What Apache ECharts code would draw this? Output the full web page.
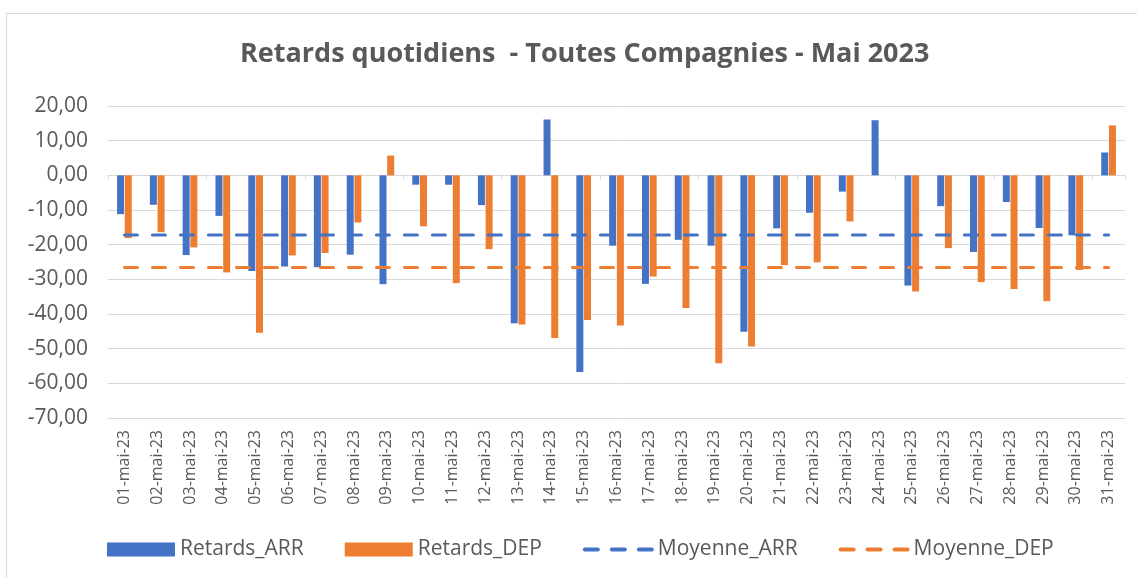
<!DOCTYPE html>
<html>
<head>
<meta charset="utf-8">
<script src="https://cdn.jsdelivr.net/npm/echarts@6/dist/echarts.min.js"></script>
<style>
  html, body { margin: 0; padding: 0; background: #fff; }
  #frame { position: absolute; left: 6px; top: 13px; width: 1200px; height: 700px; border: 1px solid #d9d9d9; }
  #chart { position: absolute; left: 0; top: 0; width: 1137px; height: 578px; }
</style>
</head>
<body>
<div id="frame"></div>
<div id="chart"></div>
<script>
const jours = [
  '01-mai-23', '02-mai-23', '03-mai-23', '04-mai-23', '05-mai-23', '06-mai-23', '07-mai-23', '08-mai-23',
  '09-mai-23', '10-mai-23', '11-mai-23', '12-mai-23', '13-mai-23', '14-mai-23', '15-mai-23', '16-mai-23',
  '17-mai-23', '18-mai-23', '19-mai-23', '20-mai-23', '21-mai-23', '22-mai-23', '23-mai-23', '24-mai-23',
  '25-mai-23', '26-mai-23', '27-mai-23', '28-mai-23', '29-mai-23', '30-mai-23', '31-mai-23'
]
const retardsArr = [
  -11.2, -8.5, -23.0, -11.7, -27.6, -26.3, -26.5, -22.9, -31.4, -2.7, -2.7, -8.6, -42.7, 16.1, -56.7, -20.3,
  -31.3, -18.6, -20.3, -45.1, -15.3, -10.8, -4.7, 15.9, -31.8, -8.9, -22.1, -7.7, -15.2, -17.3, 6.6
]
const retardsDep = [
  -18.1, -16.4, -20.8, -28.0, -45.4, -23.1, -22.4, -13.6, 5.7, -14.7, -31.1, -21.3, -43.0, -46.9, -41.7, -43.3,
  -29.2, -38.3, -54.2, -49.4, -25.9, -25.1, -13.3, 0, -33.5, -21.0, -30.8, -32.8, -36.3, -27.3, 14.4
]
const moyenneArr = [
  -17.2, -17.2, -17.2, -17.2, -17.2, -17.2, -17.2, -17.2, -17.2, -17.2, -17.2, -17.2, -17.2, -17.2, -17.2, -17.2,
  -17.2, -17.2, -17.2, -17.2, -17.2, -17.2, -17.2, -17.2, -17.2, -17.2, -17.2, -17.2, -17.2, -17.2, -17.2
]
const moyenneDep = [
  -26.6, -26.6, -26.6, -26.6, -26.6, -26.6, -26.6, -26.6, -26.6, -26.6, -26.6, -26.6, -26.6, -26.6, -26.6, -26.6,
  -26.6, -26.6, -26.6, -26.6, -26.6, -26.6, -26.6, -26.6, -26.6, -26.6, -26.6, -26.6, -26.6, -26.6, -26.6
]

const txt = '#595959'
const font = 'Open Sans'

const chart = echarts.init(document.getElementById('chart'))

const dashLine = (name, data, color) => ({
  name,
  type: 'line',
  data,
  symbol: 'none',
  lineStyle: { color, width: 3, type: [13, 15], cap: 'round' },
  itemStyle: { color },
  z: 5
})

// legend icon for the dashed means: line only, no dot
const dashIcon = (name, color) => ({
  name,
  itemStyle: { opacity: 0 },
  lineStyle: { color, width: 4, type: [13, 14], cap: 'round' }
})

chart.setOption({
  animation: false,
  title: {
    text: 'Retards quotidiens  - Toutes Compagnies - Mai 2023',
    left: 235,
    top: 36,
    textStyle: { color: txt, fontFamily: font, fontSize: 27, fontWeight: 'bold' }
  },
  legend: {
    top: 534,
    left: 102,
    itemWidth: 68,
    itemHeight: 14,
    itemGap: 41,
    textStyle: { color: txt, fontFamily: font, fontSize: 21 },
    data: [
      { name: 'Retards_ARR', icon: 'rect' },
      { name: 'Retards_DEP', icon: 'rect' },
      dashIcon('Moyenne_ARR', '#4472C4'),
      dashIcon('Moyenne_DEP', '#ED7D31')
    ]
  },
  grid: { left: 108, right: 12, top: 106, bottom: 160 },
  xAxis: [
    {
      type: 'category',
      data: jours,
      position: 'bottom',
      axisLine: { show: false, onZero: false },
      axisTick: { show: false },
      axisLabel: { rotate: 90, margin: 12, color: txt, fontFamily: font, fontSize: 16 }
    },
    {
      type: 'category',
      data: jours,
      position: 'bottom',
      axisLine: { show: true, onZero: true, lineStyle: { color: '#d9d9d9', width: 1 } },
      axisTick: { show: true, length: 4, lineStyle: { color: '#d9d9d9' } },
      axisLabel: { show: false }
    }
  ],
  yAxis: {
    type: 'value',
    min: -70,
    max: 20,
    interval: 10,
    axisLine: { show: false },
    axisTick: { show: false },
    splitLine: { lineStyle: { color: '#d9d9d9', width: 1 } },
    axisLabel: {
      color: txt, fontFamily: font, fontSize: 21, margin: 20,
      formatter: (v) => v.toFixed(2).replace('.', ',')
    }
  },
  series: [
    {
      name: 'Retards_ARR',
      type: 'bar',
      data: retardsArr,
      barWidth: 7,
      barGap: '10%',
      itemStyle: { color: '#4472C4' }
    },
    {
      name: 'Retards_DEP',
      type: 'bar',
      data: retardsDep,
      barWidth: 7,
      itemStyle: { color: '#ED7D31' }
    },
    dashLine('Moyenne_ARR', moyenneArr, '#4472C4'),
    dashLine('Moyenne_DEP', moyenneDep, '#ED7D31')
  ]
})
</script>
</body>
</html>
